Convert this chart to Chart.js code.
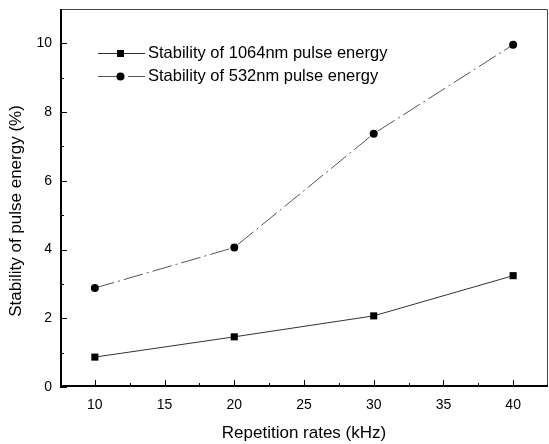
<!DOCTYPE html>
<html>
<head>
<meta charset="utf-8">
<script src="https://cdn.jsdelivr.net/npm/chart.js@4.4.1/dist/chart.umd.min.js"></script>
<style>
  html, body { margin: 0; padding: 0; background: #fff; }
  canvas { display: block; }
</style>
</head>
<body>
<canvas id="chart" width="549" height="444"></canvas>
<script>
// data
const repRates = [10, 20, 30, 40];
const stability1064 = [0.87, 1.46, 2.07, 3.24];
const stability532 = [2.88, 4.06, 7.37, 9.96];

const xTickValues = [10, 15, 20, 25, 30, 35, 40];
const xMinorTicks = [12.5, 17.5, 22.5, 27.5, 32.5, 37.5];
const yTickValues = [0, 2, 4, 6, 8, 10];
const yMinorTicks = [1, 3, 5, 7, 9];

const seriesLabels = ['Stability of 1064nm pulse energy', 'Stability of 532nm pulse energy'];
const xTitle = 'Repetition rates (kHz)';
const yTitle = 'Stability of pulse energy (%)';

const FONT = '"Liberation Sans", Arial, Helvetica, sans-serif';

const toPoints = (xs, ys) => xs.map((x, i) => ({ x: x, y: ys[i] }));

// inward ticks, frame, in-plot legend and y title
const framePlugin = {
    id: 'frame',
    afterDraw(chart) {
        const { ctx, chartArea: a, scales: { x, y } } = chart;
        ctx.save();

        // thin top / right frame
        ctx.strokeStyle = '#444';
        ctx.lineWidth = 1;
        ctx.beginPath();
        ctx.moveTo(a.left, a.top + 0.5);
        ctx.lineTo(a.right - 0.5, a.top + 0.5);
        ctx.lineTo(a.right - 0.5, a.bottom);
        ctx.stroke();

        // heavier left / bottom axes
        ctx.strokeStyle = '#000';
        ctx.lineWidth = 2;
        ctx.beginPath();
        ctx.moveTo(a.left + 1, a.top);
        ctx.lineTo(a.left + 1, a.bottom - 1);
        ctx.lineTo(a.right, a.bottom - 1);
        ctx.stroke();

        // ticks pointing inward
        ctx.lineWidth = 1;
        ctx.beginPath();
        xTickValues.forEach(v => {
            const px = Math.round(x.getPixelForValue(v)) + 0.5;
            ctx.moveTo(px, a.bottom); ctx.lineTo(px, a.bottom - 7);
        });
        xMinorTicks.forEach(v => {
            const px = Math.round(x.getPixelForValue(v)) + 0.5;
            ctx.moveTo(px, a.bottom); ctx.lineTo(px, a.bottom - 4);
        });
        yTickValues.forEach(v => {
            const py = Math.round(y.getPixelForValue(v)) + 0.5;
            ctx.moveTo(a.left, py); ctx.lineTo(a.left + 7, py);
        });
        yMinorTicks.forEach(v => {
            const py = Math.round(y.getPixelForValue(v)) + 0.5;
            ctx.moveTo(a.left, py); ctx.lineTo(a.left + 4, py);
        });
        ctx.stroke();

        // legend inside the plot
        const rows = [53.5, 76.5];
        chart.data.datasets.forEach((ds, i) => {
            const ly = rows[i];
            ctx.strokeStyle = ds.borderColor;
            ctx.lineWidth = 1;
            ctx.setLineDash(ds.borderDash || []);
            ctx.beginPath();
            ctx.moveTo(98, ly); ctx.lineTo(145, ly);
            ctx.stroke();
            ctx.setLineDash([]);
            ctx.fillStyle = '#000';
            if (ds.pointStyle === 'rect') {
                ctx.fillRect(117, ly - 3.5, 7, 7);
            } else {
                ctx.beginPath();
                ctx.arc(120.5, ly, 4, 0, Math.PI * 2);
                ctx.fill();
            }
            ctx.font = '16.5px ' + FONT;
            ctx.textAlign = 'left';
            ctx.textBaseline = 'middle';
            ctx.fillText(ds.label, 148, ly);
        });

        // y axis title
        ctx.translate(16, 211);
        ctx.rotate(-Math.PI / 2);
        ctx.font = '17px ' + FONT;
        ctx.textAlign = 'center';
        ctx.textBaseline = 'middle';
        ctx.fillStyle = '#000';
        ctx.fillText(yTitle, 0, 0);
        ctx.restore();
    }
};

new Chart(document.getElementById('chart').getContext('2d'), {
    type: 'line',
    data: {
        datasets: [
            {
                label: seriesLabels[0],
                data: toPoints(repRates, stability1064),
                borderColor: '#333',
                borderWidth: 1,
                pointStyle: 'rect',
                pointRadius: 5,
                pointBackgroundColor: '#000',
                pointBorderColor: '#000',
                pointBorderWidth: 0,
                tension: 0
            },
            {
                label: seriesLabels[1],
                data: toPoints(repRates, stability532),
                borderColor: '#555',
                borderWidth: 1,
                borderDash: [20, 4, 2, 4],
                pointStyle: 'circle',
                pointRadius: 4,
                pointBackgroundColor: '#000',
                pointBorderColor: '#000',
                pointBorderWidth: 0,
                tension: 0
            }
        ]
    },
    options: {
        responsive: false,
        animation: false,
        // autoPadding would keep room for point radii on the right edge
        layout: { autoPadding: false, padding: { left: 0, top: 9, right: 1, bottom: 0 } },
        plugins: {
            legend: { display: false },
            tooltip: { enabled: false }
        },
        scales: {
            x: {
                type: 'linear',
                min: 7.5,
                max: 42.5,
                grid: { display: false, drawTicks: false },
                border: { display: false },
                afterBuildTicks: s => { s.ticks = xTickValues.map(v => ({ value: v })); },
                afterFit: s => { s.height = 57; s.paddingLeft = 0; s.paddingRight = 0; },
                ticks: {
                    padding: 10,
                    color: '#000',
                    font: { family: FONT, size: 14 },
                    maxRotation: 0
                },
                title: {
                    display: true,
                    text: xTitle,
                    color: '#000',
                    font: { family: FONT, size: 17 },
                    padding: { top: 0, bottom: 0 }
                }
            },
            y: {
                min: 0,
                max: 11,
                grid: { display: false, drawTicks: false },
                border: { display: false },
                afterBuildTicks: s => { s.ticks = yTickValues.map(v => ({ value: v })); },
                afterFit: s => { s.width = 60; s.paddingTop = 0; s.paddingBottom = 0; },
                ticks: {
                    padding: 8,
                    color: '#000',
                    font: { family: FONT, size: 14 }
                }
            }
        }
    },
    plugins: [framePlugin]
});
</script>
</body>
</html>
